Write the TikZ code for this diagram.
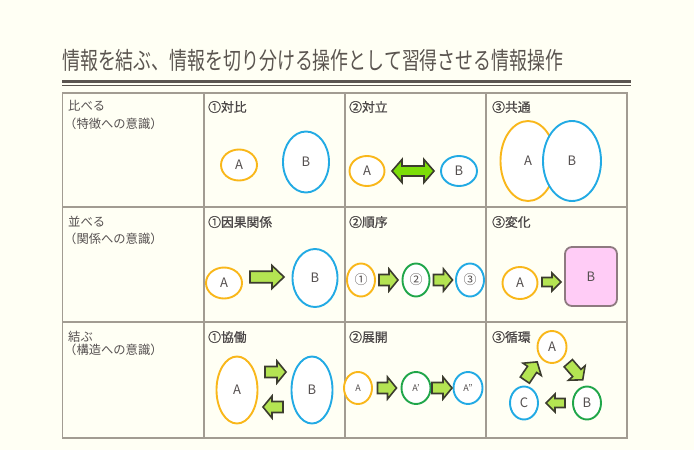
\documentclass[tikz,border=0pt]{standalone}
\usepackage{fontspec}
\usepackage{graphicx}
\setmainfont{Noto Sans CJK JP}
\newfontfamily\hdrf[FakeBold=0.8]{Noto Sans CJK JP}
\usetikzlibrary{shapes.geometric,calc}
\definecolor{bgc}{HTML}{FFFFF4}
\definecolor{tblc}{HTML}{A29C92}
\definecolor{ttlc}{HTML}{5B5550}
\definecolor{txtc}{HTML}{555050}
\definecolor{orc}{HTML}{F9B71A}
\definecolor{blc}{HTML}{22AAE4}
\definecolor{grc}{HTML}{20A64A}
\definecolor{arf}{HTML}{B4E452}
\definecolor{ard}{HTML}{3C3C2E}
\definecolor{dbf}{HTML}{7CDE08}
\definecolor{pkf}{HTML}{FFCCF6}
\definecolor{pkd}{HTML}{8E7A80}
\tikzset{
  ov/.style={ellipse,draw=#1,line width=1.9pt,fill=white,inner sep=0pt,text=txtc,font=\fontsize{13}{13}\selectfont},
  rowlbl/.style={anchor=west,inner sep=0pt,text=txtc,font=\fontsize{12.3}{13}\selectfont},
  hdr/.style={anchor=west,inner sep=0pt,text=txtc!90!black,font=\fontsize{12.8}{13}\selectfont\hdrf},
  blk/.style={draw=ard,fill=arf,line width=1.6pt,line join=miter},
  dblk/.style={draw=ard,fill=dbf,line width=1.6pt,line join=miter},
  tbl/.style={draw=tblc,line width=1.4pt}
}
% #1 center, #2 angle, #3 length, #4 head length, #5 head width
\newcommand\blkarrow[5]{%
  \begin{scope}[shift={(#1)},rotate=#2]
    \draw[blk] ({-#3/2},{-#5/4}) -- ({#3/2-#4},{-#5/4}) -- ({#3/2-#4},{-#5/2}) -- ({#3/2},0)
      -- ({#3/2-#4},{#5/2}) -- ({#3/2-#4},{#5/4}) -- ({-#3/2},{#5/4}) -- cycle;
  \end{scope}}
\newcommand\dblarrow[4]{%
  \begin{scope}[shift={(#1)}]
    \draw[dblk] ({-#2/2},0) -- ({-#2/2+#3},{-#4/2}) -- ({-#2/2+#3},{-#4/4.6}) -- ({#2/2-#3},{-#4/4.6})
      -- ({#2/2-#3},{-#4/2}) -- ({#2/2},0) -- ({#2/2-#3},{#4/2}) -- ({#2/2-#3},{#4/4.6})
      -- ({-#2/2+#3},{#4/4.6}) -- ({-#2/2+#3},{#4/2}) -- cycle;
  \end{scope}}
\begin{document}
\begin{tikzpicture}[x=1pt,y=-1pt]
\fill[bgc] (0,0) rectangle (694,450);
\useasboundingbox (0,0) rectangle (694,450);
% title
\node[anchor=base west,inner sep=0pt,text=ttlc,font=\fontsize{24}{24}\selectfont] (title) at (62,69)
  {\resizebox{501pt}{\height}{情報を結ぶ、情報を切り分ける操作として習得させる情報操作}};
\draw[ttlc,line width=3pt] (62,81) -- (631,81);
\draw[ttlc,line width=1.2pt] (62,85.5) -- (631,85.5);
% table
\draw[tbl] (62.5,93) rectangle (627,438);
\foreach \xx in {204,345,486} \draw[tbl] (\xx,93) -- (\xx,438);
\foreach \yy in {207,322} \draw[tbl] (62.5,\yy) -- (627,\yy);
% row labels
\node[rowlbl] (r1a) at (68,105.5) {比べる};
\node[rowlbl] (r1b) at (64,124) {（特徴への意識）};
\node[rowlbl] (r2a) at (68,222) {並べる};
\node[rowlbl] (r2b) at (64,239) {（関係への意識）};
\node[rowlbl] (r3a) at (68,337) {結ぶ};
\node[rowlbl] (r3b) at (64,350) {（構造への意識）};
% headers
\node[hdr] (h11) at (208,107) {①対比};
\node[hdr] (h12) at (349,107) {②対立};
\node[hdr] (h13) at (492,107) {③共通};
\node[hdr] (h21) at (208,222) {①因果関係};
\node[hdr] (h22) at (349,222) {②順序};
\node[hdr] (h23) at (492,222) {③変化};
\node[hdr] (h31) at (208,337) {①協働};
\node[hdr] (h32) at (349,337) {②展開};
\node[hdr] (h33) at (492,337) {③循環};
% row 1
\node[ov=orc,minimum width=36pt,minimum height=31pt] (a11) at (239,165) {A};
\node[ov=blc,minimum width=46pt,minimum height=61pt] (b11) at (306,162) {B};
\node[ov=orc,minimum width=35pt,minimum height=30pt] (a12) at (367,171) {A};
\node[ov=blc,minimum width=36pt,minimum height=30pt] (b12) at (459,171) {B};
\dblarrow{$(a12)!0.5!(b12)$}{42}{10}{23}
\node[ov=orc,minimum width=55pt,minimum height=80pt] (a13) at (528,161) {};
\node[ov=blc,minimum width=58pt,minimum height=80pt] (b13) at (572,161) {B};
\node[text=txtc,font=\fontsize{13}{13}\selectfont,inner sep=0pt] (a13t) at (528,161) {A};
% row 2
\node[ov=orc,minimum width=36pt,minimum height=31pt] (a21) at (224,283) {A};
\node[ov=blc,minimum width=45pt,minimum height=58pt] (b21) at (315,278) {B};
\blkarrow{267,277}{0}{34}{12}{23}
\node[ov=orc,minimum width=28pt,minimum height=33pt] (n1) at (361,280) {①};
\node[ov=grc,minimum width=27pt,minimum height=33pt] (n2) at (416,280) {②};
\node[ov=blc,minimum width=28pt,minimum height=33pt] (n3) at (470,280) {③};
\blkarrow{$(n1)!0.5!(n2)$}{0}{19}{9}{22}
\blkarrow{$(n2)!0.5!(n3)$}{0}{19}{9}{22}
\node[ov=orc,minimum width=35pt,minimum height=32pt] (a23) at (520,283) {A};
\node[draw=pkd,fill=pkf,line width=1.8pt,rounded corners=7pt,minimum width=52pt,minimum height=59pt,
  inner sep=0pt,text=txtc,font=\fontsize{13}{13}\selectfont] (b23) at (591,276.5) {B};
\blkarrow{551.5,282}{0}{19}{9}{18}
% row 3
\node[ov=orc,minimum width=41pt,minimum height=67pt] (a31) at (237,390) {A};
\node[ov=blc,minimum width=41pt,minimum height=67pt] (b31) at (312,390) {B};
\blkarrow{275.5,372}{0}{21}{9}{22}
\blkarrow{273,407}{180}{20}{9}{22}
\node[ov=orc,minimum width=28pt,minimum height=32pt,font=\fontsize{9}{9}\selectfont] (e1) at (358,388) {A};
\node[ov=grc,minimum width=29pt,minimum height=32pt,font=\fontsize{9}{9}\selectfont] (e2) at (416,388) {A'};
\node[ov=blc,minimum width=29pt,minimum height=32pt,font=\fontsize{9}{9}\selectfont] (e3) at (468,388) {A''};
\blkarrow{$(e1)!0.5!(e2)$}{0}{19}{9}{22}
\blkarrow{$(e2)!0.5!(e3)$}{0}{20}{9}{22}
\node[ov=orc,minimum width=29pt,minimum height=32pt] (ca) at (552,347) {A};
\node[ov=grc,minimum width=28pt,minimum height=33pt] (cb) at (587,403) {B};
\node[ov=blc,minimum width=28pt,minimum height=33pt] (cc) at (524,403) {C};
\blkarrow{531,371}{56}{22}{9}{22}
\blkarrow{575.5,371.5}{-49}{22}{9}{22}
\blkarrow{$(cb)!0.5!(cc)$}{180}{19}{9}{18}
\end{tikzpicture}
\end{document}
